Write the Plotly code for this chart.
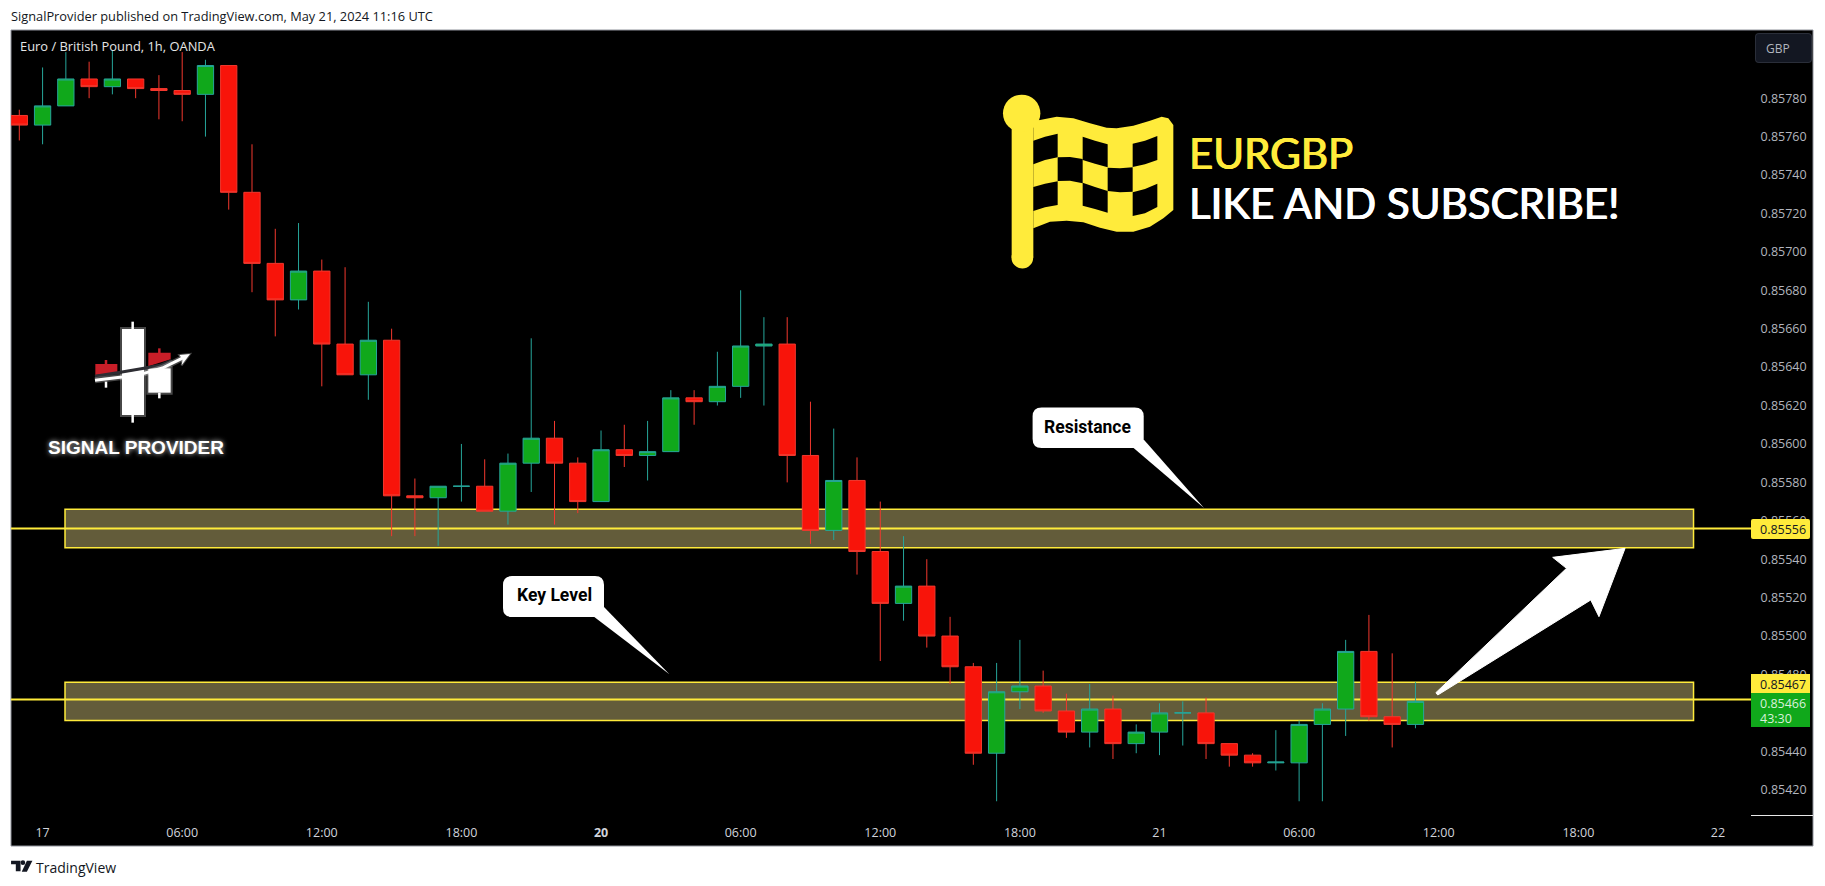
import plotly.graph_objects as go

bar_index = list(range(61))
open_prices = [0.85771,0.85766,0.85776,0.85790,0.85786,0.85790,0.85785,0.85784,0.85782,0.85797,
 0.85731,0.85694,0.85675,0.85690,0.85652,0.85636,0.85654,0.85573,0.85572,0.85578,
 0.85578,0.85565,0.85590,0.85603,0.85590,0.85570,0.85597,0.85594,0.85596,0.85624,
 0.85622,0.85630,0.85651,0.85652,0.85594,0.85555,0.85581,0.85544,0.85517,0.85526,
 0.85500,0.85484,0.85439,0.85471,0.85474,0.85461,0.85450,0.85462,0.85444,0.85450,
 0.85460,0.85460,0.85444,0.85438,0.85434,0.85434,0.85454,0.85462,0.85492,0.85458,0.85454]
high_prices = [0.85774,0.85796,0.85804,0.85799,0.85805,0.85790,0.85792,0.85804,0.85800,0.85797,
 0.85756,0.85712,0.85715,0.85696,0.85692,0.85674,0.85660,0.85582,0.85578,0.85600,
 0.85592,0.85595,0.85655,0.85612,0.85593,0.85607,0.85610,0.85612,0.85628,0.85628,
 0.85648,0.85680,0.85666,0.85666,0.85622,0.85608,0.85593,0.85570,0.85552,0.85540,
 0.85510,0.85486,0.85486,0.85498,0.85482,0.85470,0.85475,0.85469,0.85454,0.85465,
 0.85466,0.85468,0.85444,0.85439,0.85451,0.85456,0.85465,0.85498,0.85511,0.85491,0.85476]
low_prices = [0.85758,0.85756,0.85776,0.85780,0.85782,0.85780,0.85769,0.85768,0.85760,0.85722,
 0.85679,0.85656,0.85670,0.85630,0.85636,0.85623,0.85552,0.85552,0.85547,0.85570,
 0.85565,0.85558,0.85575,0.85558,0.85564,0.85570,0.85588,0.85581,0.85596,0.85610,
 0.85620,0.85624,0.85620,0.85580,0.85548,0.85550,0.85532,0.85487,0.85508,0.85494,
 0.85475,0.85433,0.85414,0.85462,0.85460,0.85447,0.85442,0.85436,0.85439,0.85438,
 0.85443,0.85436,0.85432,0.85432,0.85430,0.85414,0.85414,0.85448,0.85456,0.85442,0.85452]
close_prices = [0.85766,0.85776,0.85790,0.85786,0.85790,0.85785,0.85784,0.85782,0.85797,0.85731,
 0.85694,0.85675,0.85690,0.85652,0.85636,0.85654,0.85573,0.85572,0.85578,0.85578,
 0.85565,0.85590,0.85603,0.85590,0.85570,0.85597,0.85594,0.85596,0.85624,0.85622,
 0.85630,0.85651,0.85652,0.85594,0.85555,0.85581,0.85544,0.85517,0.85526,0.85500,
 0.85484,0.85439,0.85471,0.85474,0.85461,0.85450,0.85462,0.85444,0.85450,0.85460,
 0.85460,0.85444,0.85438,0.85434,0.854344,0.85454,0.85462,0.85492,0.85458,0.85454,0.85466]

price_ticks = [0.85420,0.85440,0.85460,0.85480,0.85500,0.85520,0.85540,0.85560,0.85580,0.85600,
 0.85620,0.85640,0.85660,0.85680,0.85700,0.85720,0.85740,0.85760,0.85780]
price_tick_labels = [f"{v:.5f}" for v in price_ticks]
time_ticks = [1,7,13,19,25,31,37,43,49,55,61,67,73]
time_tick_labels = ["17","06:00","12:00","18:00","<b>20</b>","06:00","12:00","18:00","21","06:00","12:00","18:00","22"]

resistance_level = 0.85556
key_level = 0.85467
last_price = 0.85466
x_range = [-0.357, 74.42]
zone_left, zone_right = 1.964, 71.95
resistance_zone = (0.85546, 0.85566)
key_zone = (0.85456, 0.85476)

YELLOW = "#FFEB3B"
W, H = 1825, 886
ML, MR, MT, MB = 11, 74, 30, 69
PW, PH = W-ML-MR, H-MT-MB

def X(px): return (px-ML)/PW
def Y(py): return (H-MB-py)/PH

def poly(pts, fill, line=None, lw=0, layer="above"):
    d = "M " + " L ".join(f"{X(a):.6f},{Y(b):.6f}" for a,b in pts) + " Z"
    return dict(type="path", xref="paper", yref="paper", path=d, fillcolor=fill,
                line=dict(color=line or fill, width=lw), layer=layer)

def stroke(pts, color, lw):
    d = "M " + " L ".join(f"{X(a):.6f},{Y(b):.6f}" for a,b in pts)
    return dict(type="path", xref="paper", yref="paper", path=d, line=dict(color=color, width=lw), layer="above")

def rect(x0,y0,x1,y1,fill,line=None,lw=0,layer="above"):
    return dict(type="rect", xref="paper", yref="paper", x0=X(x0),x1=X(x1),y0=Y(y0),y1=Y(y1),
                fillcolor=fill, line=dict(color=line or fill,width=lw), layer=layer)

def ell(cx,cy,rx,ry,fill):
    return dict(type="circle", xref="paper", yref="paper", x0=X(cx-rx),x1=X(cx+rx),y0=Y(cy+ry),y1=Y(cy-ry),
                fillcolor=fill, line=dict(color=fill,width=0), layer="above")

def rrect(x0,y0,x1,y1,r,fill):
    a,b,c,d = X(x0),X(x1),Y(y0),Y(y1)
    rx, ry = r/PW, r/PH
    p = (f"M {a+rx:.6f},{c:.6f} L {b-rx:.6f},{c:.6f} Q {b:.6f},{c:.6f} {b:.6f},{c-ry:.6f} "
         f"L {b:.6f},{d+ry:.6f} Q {b:.6f},{d:.6f} {b-rx:.6f},{d:.6f} L {a+rx:.6f},{d:.6f} "
         f"Q {a:.6f},{d:.6f} {a:.6f},{d+ry:.6f} L {a:.6f},{c-ry:.6f} Q {a:.6f},{c:.6f} {a+rx:.6f},{c:.6f} Z")
    return dict(type="path", xref="paper", yref="paper", path=p, fillcolor=fill, line=dict(color=fill,width=0), layer="above")

shapes = []
# chart panel and frame
shapes.append(rect(11,30,1813,846,"#000000","#8f929b",1,"below"))

# zones and levels
for z in (resistance_zone, key_zone):
    shapes.append(dict(type="rect", xref="x", yref="y", x0=zone_left, x1=zone_right, y0=z[0], y1=z[1],
                       fillcolor="#635C3A", line=dict(color=YELLOW,width=1.5), layer="below"))
for lv in (resistance_level, key_level):
    shapes.append(dict(type="line", xref="x", yref="y", x0=x_range[0], x1=x_range[1], y0=lv, y1=lv,
                       line=dict(color=YELLOW,width=2), layer="below"))

# bottom line of the price scale
shapes.append(rect(1751,815,1813,816,"#e8e8e8"))

# price tags
shapes.append(rrect(1751,519,1810,539,2,YELLOW))
shapes.append(rect(1751,674,1810,693,YELLOW))
shapes.append(rect(1751,693,1810,727,"#10A81B"))
# currency button
shapes.append(rrect(1755,33,1812,63,4,"#2a2e39"))
shapes.append(rrect(1756,34,1811,62,3,"#131722"))

# callouts
shapes.append(rrect(503,576,604,617,9,"#FFFFFF"))
shapes.append(poly([(593,616),(604,607),(669.4,674.3)],"#FFFFFF"))
shapes.append(rrect(1032.6,407.5,1143.7,448,9,"#FFFFFF"))
shapes.append(poly([(1133,447.5),(1143.7,439.6),(1204,508)],"#FFFFFF"))

# big arrow
def az(vx,v): return (1240+vx/2.68, 480+v/3)
shapes.append(poly([az(*p) for p in [(525,638),(875,265),(838,232),(1032,205),(962,410),(940,360),(530,645)]],"#FFFFFF","#FFFFFF",1))

# flag
def fz(vx,v): return (990+vx/3, 85+v/3)
flag_outer = [(130,108),(150,105),(200,95),(250,100),(300,115),(350,128),(380,130),(430,122),(480,107),(515,95),
              (535,100),(550,120),(550,375),(520,400),(480,425),(430,440),(380,440),(330,428),(280,412),(230,407),(180,410),(130,430)]
shapes.append(poly([fz(*p) for p in flag_outer],YELLOW))
pole_l, pole_t = fz(65,85)
pole_r, pole_b = fz(130,518)
shapes.append(rect(pole_l,pole_t,pole_r,pole_b,YELLOW))
shapes.append(ell(*fz(97,518),(pole_r-pole_l)/2,(pole_r-pole_l)/2,YELLOW))
shapes.append(ell(*fz(95,85),18.7,18.7,YELLOW))
cells = [
 [(130,167),(165,155),(203,146),(203,217),(165,225),(130,238)],
 [(278,155),(315,167),(353,178),(353,247),(315,236),(278,225)],
 [(428,176),(465,167),(502,153),(502,225),(465,238),(428,246)],
 [(203,217),(240,216),(278,222),(278,295),(240,287),(203,288)],
 [(353,248),(390,250),(428,247),(428,320),(390,322),(353,318)],
 [(130,306),(165,296),(203,289),(203,360),(165,367),(130,378)],
 [(278,293),(315,306),(353,318),(353,383),(315,372),(278,362)],
 [(428,322),(465,312),(502,296),(502,366),(465,385),(428,393)],
]
for c in cells:
    shapes.append(poly([fz(*p) for p in c],"#000000"))

# signal provider logo
def lz(vx,v): return (60+vx/3, 300+v/3)
GLOW = "rgba(255,255,255,0.28)"
for (a,b,c,d) in [(186,87,252,345),(265,205,332,278)]:
    p0,p1 = lz(a,b),lz(c,d)
    shapes.append(rect(p0[0],p0[1],p1[0],p1[1],"#FFFFFF",GLOW,4))
for (vx,a,b) in [(218,65,368),(298,278,295),(138,245,263)]:
    shapes.append(stroke([lz(vx,a),lz(vx,b)],"#FFFFFF",2.5))
for (vx,a,b) in [(298,145,160),(138,180,192)]:
    shapes.append(stroke([lz(vx,a),lz(vx,b)],"#C81E28",2.5))
shapes.append(poly([lz(*p) for p in [(106,192),(172,192),(172,218),(106,225)]],"#C81E28"))
shapes.append(poly([lz(*p) for p in [(265,158),(332,158),(332,178),(265,199)]],"#C81E28"))
shapes.append(stroke([lz(*p) for p in [(105,229),(186,216),(252,205),(300,196),(335,182)]],"#2d2d33",3))
shapes.append(stroke([lz(*p) for p in [(105,241),(186,231),(252,220),(310,203),(372,172)]],GLOW,6))
shapes.append(stroke([lz(*p) for p in [(105,241),(186,231),(252,220),(310,203),(372,172)]],"#FFFFFF",3))
shapes.append(poly([lz(*p) for p in [(390,162),(358,165),(368,177),(365,196)]],"#FFFFFF",GLOW,2))

# TradingView mark
def tz(vx,v): return (vx/2.53, 440+v/3)
shapes.append(poly([tz(*p) for p in [(28,1262),(52,1262),(52,1294),(40,1294),(40,1273),(28,1273)]],"#131722"))
shapes.append(ell(58/2.53,440+1268/3,2.3,2.3,"#131722"))
shapes.append(poly([tz(*p) for p in [(68,1262),(82,1262),(68,1295),(55,1295)]],"#131722"))

def txt(px,py,t,size,color,family="Open Sans",anchor="left",shadow=None):
    f = dict(size=size,color=color,family=family)
    if shadow: f["shadow"]=shadow
    return dict(xref="paper",yref="paper",x=X(px),y=Y(py),text=t,showarrow=False,font=f,
                xanchor=anchor,yanchor="middle",borderpad=0,borderwidth=0)

annotations = [
 txt(11,16,"SignalProvider published on TradingView.com, May 21, 2024 11:16 UTC",12.8,"#131722"),
 txt(20,46.5,"Euro / British Pound, 1h, OANDA",12.9,"#e6e6e6"),
 txt(1189,153,"EURGBP",42,YELLOW,"Lato",shadow="0.6px 0 0 #FFEB3B, -0.6px 0 0 #FFEB3B"),
 txt(1189,203,"LIKE AND SUBSCRIBE!",42,"#FFFFFF","Lato",shadow="0.6px 0 0 #FFFFFF, -0.6px 0 0 #FFFFFF"),
 txt(554,595,"<b>Key Level</b>",17.5,"#000000","Roboto",anchor="center"),
 txt(1087.6,427,"<b>Resistance</b>",17.5,"#000000","Roboto",anchor="center"),
 txt(135.5,448,"<b>SIGNAL PROVIDER</b>",19,"#FFFFFF","Liberation Sans",anchor="center",shadow="0px 0px 5px rgba(255,255,255,0.8)"),
 txt(35.5,867,"TradingView",14,"#131722"),
 txt(1766,48,"GBP",12,"#b2b5be"),
 txt(1760,529,f"{resistance_level:.5f}",12.5,"#131722"),
 txt(1760,684,f"{key_level:.5f}",12.5,"#131722"),
 txt(1760,703,f"{last_price:.5f}",12.5,"#d8f0da"),
 txt(1760,718,"43:30",12.5,"#d8f0da"),
]

fig = go.Figure(go.Candlestick(
    x=bar_index, open=open_prices, high=high_prices, low=low_prices, close=close_prices,
    increasing=dict(line=dict(color="#26a69a",width=1),fillcolor="#10A81B"),
    decreasing=dict(line=dict(color="#f2382e",width=1),fillcolor="#F8140A"),
    whiskerwidth=0, showlegend=False, hoverinfo="skip"))

fig.update_layout(
    width=W, height=H, autosize=False,
    margin=dict(l=ML,r=MR,t=MT,b=MB,pad=0),
    paper_bgcolor="#FFFFFF", plot_bgcolor="rgba(0,0,0,0)",
    showlegend=False, shapes=shapes, annotations=annotations, boxgap=0.3, boxgroupgap=0,
    font=dict(family="Open Sans"),
    xaxis=dict(range=x_range,tickmode="array",tickvals=time_ticks,ticktext=time_tick_labels,
               showgrid=False,zeroline=False,showline=False,rangeslider=dict(visible=False),
               ticks="outside",ticklen=4,tickcolor="rgba(0,0,0,0)",tickangle=0,
               tickfont=dict(size=12.5,color="#d1d4dc",family="Open Sans")),
    yaxis=dict(range=[0.854058,0.858155],side="right",tickmode="array",tickvals=price_ticks,ticktext=price_tick_labels,
               showgrid=False,zeroline=False,showline=False,
               ticks="outside",ticklen=6,tickcolor="rgba(0,0,0,0)",
               tickfont=dict(size=12.5,color="#b2b5be",family="Open Sans")),
)

fig.write_html("out.html",config=dict(displayModeBar=False,staticPlot=True),
               post_script="document.body.style.margin='0';document.body.style.overflow='hidden';")
